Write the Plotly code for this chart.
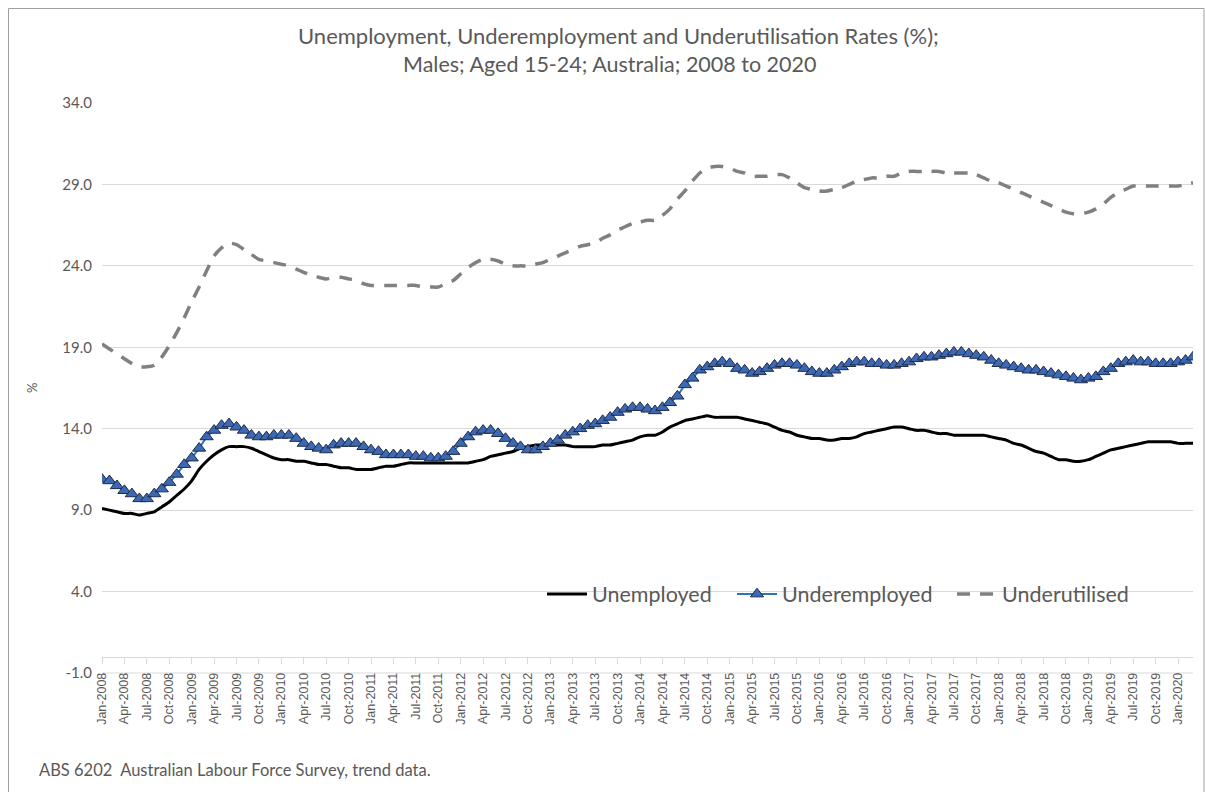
import pandas as pd
import plotly.graph_objects as go

# Monthly trend rates (%), males aged 15-24, Jan 2008 - Mar 2020
months = list(pd.date_range("2008-01-01", periods=147, freq="MS").strftime("%b-%Y"))

unemployed = [
    9.1, 9.0, 8.9, 8.8, 8.8, 8.7, 8.8, 8.9, 9.2, 9.5, 9.9, 10.3,
    10.8, 11.5, 12.0, 12.4, 12.7, 12.9, 12.9, 12.9, 12.8, 12.6, 12.4, 12.2,
    12.1, 12.1, 12.0, 12.0, 11.9, 11.8, 11.8, 11.7, 11.6, 11.6, 11.5, 11.5,
    11.5, 11.6, 11.7, 11.7, 11.8, 11.9, 11.9, 11.9, 11.9, 11.9, 11.9, 11.9,
    11.9, 11.9, 12.0, 12.1, 12.3, 12.4, 12.5, 12.6, 12.8, 12.9, 13.0, 13.0,
    13.0, 13.0, 13.0, 12.9, 12.9, 12.9, 12.9, 13.0, 13.0, 13.1, 13.2, 13.3,
    13.5, 13.6, 13.6, 13.8, 14.1, 14.3, 14.5, 14.6, 14.7, 14.8, 14.7, 14.7,
    14.7, 14.7, 14.6, 14.5, 14.4, 14.3, 14.1, 13.9, 13.8, 13.6, 13.5, 13.4,
    13.4, 13.3, 13.3, 13.4, 13.4, 13.5, 13.7, 13.8, 13.9, 14.0, 14.1, 14.1,
    14.0, 13.9, 13.9, 13.8, 13.7, 13.7, 13.6, 13.6, 13.6, 13.6, 13.6, 13.5,
    13.4, 13.3, 13.1, 13.0, 12.8, 12.6, 12.5, 12.3, 12.1, 12.1, 12.0, 12.0,
    12.1, 12.3, 12.5, 12.7, 12.8, 12.9, 13.0, 13.1, 13.2, 13.2, 13.2, 13.2,
    13.1, 13.1, 13.1,
]

underemployed = [
    10.9, 10.8, 10.5, 10.2, 10.0, 9.7, 9.7, 10.0, 10.3, 10.7, 11.2, 11.8,
    12.2, 12.8, 13.5, 13.9, 14.2, 14.3, 14.1, 13.9, 13.6, 13.5, 13.5, 13.6,
    13.6, 13.6, 13.4, 13.1, 12.9, 12.8, 12.7, 13.0, 13.1, 13.1, 13.1, 12.9,
    12.7, 12.6, 12.4, 12.4, 12.4, 12.4, 12.3, 12.3, 12.2, 12.2, 12.3, 12.6,
    13.1, 13.5, 13.8, 13.9, 13.9, 13.7, 13.4, 13.1, 12.9, 12.7, 12.7, 12.9,
    13.1, 13.3, 13.6, 13.8, 14.0, 14.2, 14.3, 14.5, 14.7, 15.0, 15.2, 15.3,
    15.3, 15.2, 15.1, 15.3, 15.6, 16.0, 16.7, 17.1, 17.6, 17.8, 18.0, 18.1,
    18.0, 17.7, 17.6, 17.4, 17.5, 17.7, 17.9, 18.0, 18.0, 17.9, 17.7, 17.5,
    17.4, 17.4, 17.6, 17.8, 18.0, 18.1, 18.1, 18.0, 18.0, 17.9, 17.9, 18.0,
    18.1, 18.3, 18.4, 18.4, 18.5, 18.6, 18.7, 18.7, 18.6, 18.5, 18.4, 18.2,
    18.0, 17.9, 17.8, 17.7, 17.6, 17.6, 17.5, 17.4, 17.3, 17.2, 17.1, 17.0,
    17.1, 17.2, 17.5, 17.7, 18.0, 18.1, 18.2, 18.1, 18.1, 18.0, 18.0, 18.0,
    18.1, 18.2, 18.4,
]

underutilised = [
    19.2, 18.9, 18.6, 18.3, 18.0, 17.8, 17.8, 17.9, 18.4, 19.1, 19.9, 20.8,
    21.8, 22.7, 23.7, 24.6, 25.1, 25.4, 25.3, 25.0, 24.7, 24.4, 24.3, 24.2,
    24.1, 24.0, 23.8, 23.6, 23.4, 23.3, 23.2, 23.3, 23.3, 23.2, 23.1, 22.9,
    22.8, 22.8, 22.8, 22.8, 22.8, 22.8, 22.8, 22.7, 22.7, 22.7, 22.9, 23.1,
    23.5, 23.9, 24.2, 24.4, 24.4, 24.3, 24.1, 24.0, 24.0, 24.0, 24.1, 24.2,
    24.4, 24.6, 24.8, 25.0, 25.2, 25.3, 25.4, 25.7, 25.9, 26.2, 26.4, 26.6,
    26.7, 26.8, 26.8, 27.1, 27.5, 28.1, 28.6, 29.2, 29.7, 30.0, 30.1, 30.1,
    30.0, 29.8, 29.7, 29.5, 29.5, 29.5, 29.6, 29.6, 29.4, 29.1, 28.8, 28.7,
    28.6, 28.6, 28.7, 28.8, 29.0, 29.2, 29.3, 29.4, 29.4, 29.5, 29.5, 29.7,
    29.8, 29.8, 29.8, 29.8, 29.8, 29.7, 29.7, 29.7, 29.7, 29.6, 29.4, 29.2,
    29.1, 28.9, 28.7, 28.5, 28.3, 28.1, 27.9, 27.7, 27.5, 27.3, 27.2, 27.2,
    27.3, 27.5, 27.8, 28.2, 28.5, 28.7, 28.9, 28.9, 28.9, 28.9, 28.9, 28.9,
    28.9, 29.0, 29.1,
]

tick_labels = months[::3]
y_ticks = [-1.0, 4.0, 9.0, 14.0, 19.0, 24.0, 29.0, 34.0]
y_tick_text = ["-1.0", "4.0", "9.0", "14.0", "19.0", "24.0", "29.0", "34.0"]

# Page geometry (pixels) for placing annotations, legends and the outer frame
W, H = 1205, 792
L, R, T, B = 102, 1193, 103, 673
PW, PH = R - L, B - T


def px(x):
    return (x - L) / PW


def py(y):
    return (B - y) / PH


TXT = "#595959"
GRID = "#D9D9D9"
FONT = "Lato"


def legend_box(x_left):
    return dict(
        orientation="h", x=px(x_left), xanchor="left",
        y=py(594), yanchor="middle",
        bgcolor="rgba(0,0,0,0)",
        font=dict(family=FONT, size=21.5, color=TXT),
        itemwidth=40,
    )


fig = go.Figure()

fig.add_trace(go.Scatter(
    x=months, y=unemployed, name="Unemployed", mode="lines",
    line=dict(color="#000000", width=3, shape="spline", smoothing=0.6),
    legend="legend",
))
fig.add_trace(go.Scatter(
    x=months, y=underemployed, name="Underemployed", mode="lines+markers",
    line=dict(color="#2E75B6", width=2),
    marker=dict(symbol="triangle-up", size=11.5, color="#3D68B4",
                line=dict(color="#1C2B4A", width=1)),
    legend="legend2",
))
fig.add_trace(go.Scatter(
    x=months, y=underutilised, name="Underutilised", mode="lines",
    line=dict(color="#808080", width=3.5, dash="13px,10px",
              shape="spline", smoothing=0.6),
    legend="legend3",
))

fig.update_layout(
    width=W, height=H, autosize=False,
    margin=dict(l=L, r=W - R, t=T, b=H - B, pad=0),
    paper_bgcolor="white", plot_bgcolor="white",
    font=dict(family=FONT, color=TXT),
    showlegend=True,
    legend=legend_box(542),
    legend2=legend_box(732),
    legend3=legend_box(952),
    xaxis=dict(
        type="category", range=[0, 146],
        anchor="free", position=1 / 35,
        showline=True, linecolor=GRID, linewidth=1,
        showgrid=False, zeroline=False,
        tickmode="array", tickvals=tick_labels, ticktext=tick_labels,
        ticks="outside", ticklen=6, tickcolor=GRID,
        tickangle=-90, ticklabelstandoff=4,
        tickfont=dict(family="Liberation Sans", size=12.5, color=TXT),
    ),
    yaxis=dict(
        range=[-1, 34],
        tickmode="array", tickvals=y_ticks, ticktext=y_tick_text,
        showgrid=True, gridcolor=GRID, gridwidth=1,
        zeroline=False, showline=False,
        ticks="", ticklabelstandoff=9,
        tickfont=dict(family=FONT, size=15, color=TXT),
    ),
    shapes=[
        dict(type="rect", xref="paper", yref="paper",
             x0=px(8.5), x1=px(1204), y0=py(800), y1=py(8.5),
             line=dict(color="#A0A0A0", width=1), fillcolor="rgba(0,0,0,0)",
             layer="below"),
        dict(type="line", xref="paper", yref="paper",
             x0=0, x1=1, y0=0, y1=0, line=dict(color=GRID, width=1),
             layer="below"),
    ],
    annotations=[
        dict(text="Unemployment, Underemployment and Underutilisation Rates (%);",
             xref="paper", yref="paper", x=px(618), y=py(35),
             xanchor="center", yanchor="middle", showarrow=False,
             font=dict(family=FONT, size=22, color=TXT)),
        dict(text="Males; Aged 15-24; Australia; 2008 to 2020",
             xref="paper", yref="paper", x=px(610), y=py(64),
             xanchor="center", yanchor="middle", showarrow=False,
             font=dict(family=FONT, size=21.5, color=TXT)),
        dict(text="%", xref="paper", yref="paper", x=px(32), y=py(388),
             xanchor="center", yanchor="middle", showarrow=False,
             textangle=-90, font=dict(family=FONT, size=13, color=TXT)),
        dict(text="ABS 6202  Australian Labour Force Survey, trend data.",
             xref="paper", yref="paper", x=px(37), y=py(770),
             xanchor="left", yanchor="middle", showarrow=False,
             font=dict(family=FONT, size=16.5, color=TXT)),
    ],
)

fig.write_html("out.html")
